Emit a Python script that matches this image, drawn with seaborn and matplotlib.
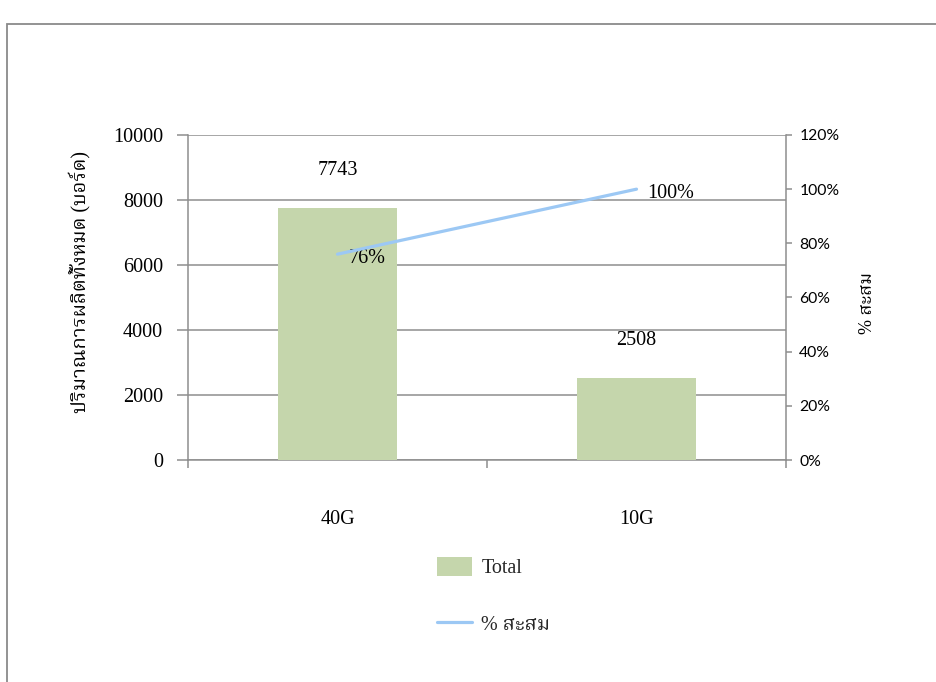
import numpy as np
import pandas as pd
import matplotlib
matplotlib.use("Agg")
import matplotlib.pyplot as plt
from matplotlib import font_manager
from matplotlib.patches import Rectangle, Patch
from matplotlib.lines import Line2D
from matplotlib.ticker import FixedLocator, PercentFormatter
import seaborn as sns

# Production totals per board type and the cumulative share
categories = ["40G", "10G"]
totals = [7743, 2508]
cum_share = [0.76, 1.00]
cum_labels = ["76%", "100%"]

left_title = "ปริมาณการผลิตทั้งหมด (บอร์ด)"
right_title = "% สะสม"
bar_name = "Total"
line_name = "% สะสม"

BAR_COLOR = "#C5D6AC"
LINE_COLOR = "#9CC8F4"
GRID_COLOR = "#8E8E8E"


def find_thai_family():
    """Return an installed family that has Thai glyphs, if any."""
    try:
        from fontTools.ttLib import TTFont
    except Exception:
        return None
    found = []
    for f in font_manager.fontManager.ttflist:
        try:
            tt = TTFont(f.fname, fontNumber=0, lazy=True)
            cmap = tt.getBestCmap()
            if cmap and 0x0E2A in cmap and 0x0E21 in cmap:
                found.append(f.name)
        except Exception:
            continue
    prefs = ["Noto Serif Thai", "Norasi", "Tlwg Typo", "Loma", "Garuda",
             "Noto Sans Thai Looped", "Noto Sans Thai", "Kinnari", "Laksaman"]
    for p in prefs:
        if p in found:
            return p
    return found[0] if found else None


sns.set_theme(style="white")
thai = find_thai_family()
serif_fam = ["Liberation Serif"] + ([thai] if thai else []) + ["DejaVu Sans"]
plt.rcParams["font.family"] = serif_fam
plt.rcParams["axes.unicode_minus"] = False

W, H = 936, 682
fig = plt.figure(figsize=(W / 100, H / 100), dpi=100)
fig.patch.set_facecolor("white")

# outer chart frame (runs off the right and bottom edges)
fig.patches.append(Rectangle((7 / W, -0.05), 1.2, 1 - 24 / H + 0.05,
                             transform=fig.transFigure, fill=False,
                             edgecolor="#8A8A8A", linewidth=1.3))

ax = fig.add_axes([188 / W, 1 - 460 / H, 598 / W, 325 / H])
df = pd.DataFrame({"category": categories, "total": totals})
sns.barplot(data=df, x="category", y="total", color=BAR_COLOR, width=0.4,
            saturation=1, linewidth=0, ax=ax, zorder=3)
ax.set_xlim(-0.5, len(categories) - 0.5)
ax.set_ylim(0, 10000)
ax.yaxis.set_major_locator(FixedLocator(np.arange(0, 10001, 2000)))
ax.grid(axis="y", color=GRID_COLOR, linewidth=1.1, zorder=0)
ax.set_axisbelow(True)
ax.set_xlabel("")
ax.set_ylabel("")
for s in ["top", "right"]:
    ax.spines[s].set_visible(False)
for s in ["left", "bottom"]:
    ax.spines[s].set_color(GRID_COLOR)
    ax.spines[s].set_linewidth(1.1)

ax.tick_params(axis="y", which="major", direction="out", length=8, width=1.1,
               color=GRID_COLOR, pad=10, labelsize=14.5, left=True)
ax.set_xticks(range(len(categories)))
ax.set_xticklabels(categories)
ax.set_xticks(np.arange(-0.5, len(categories)), minor=True)
ax.tick_params(axis="x", which="major", length=0, pad=36, labelsize=14.5)
ax.tick_params(axis="x", which="minor", direction="out", length=6, width=1.1,
               color=GRID_COLOR, bottom=True)
for lbl in ax.get_yticklabels() + ax.get_xticklabels():
    lbl.set_color("black")

# value labels above the bars
for i, v in enumerate(totals):
    ax.annotate(f"{v}", xy=(i, v), xytext=(0, 27), textcoords="offset points",
                ha="center", va="center", fontsize=14.5, color="black")

# cumulative share on the secondary axis
ax2 = ax.twinx()
sns.lineplot(x=np.arange(len(categories)), y=cum_share, ax=ax2,
             color=LINE_COLOR, linewidth=2.3, zorder=4)
ax2.set_ylim(0, 1.2)
ax2.yaxis.set_major_locator(FixedLocator(np.arange(0, 1.21, 0.2)))
ax2.yaxis.set_major_formatter(PercentFormatter(1.0, decimals=0))
ax2.grid(False)
for s in ["top", "left", "bottom"]:
    ax2.spines[s].set_visible(False)
ax2.spines["right"].set_color(GRID_COLOR)
ax2.spines["right"].set_linewidth(1.1)
ax2.tick_params(axis="y", direction="out", length=4.5, width=1.1,
                color=GRID_COLOR, pad=5, labelsize=11.3, right=True)
for lbl in ax2.get_yticklabels():
    lbl.set_family(["Lato", "DejaVu Sans"])
    lbl.set_color("black")
ax2.set_ylabel("")

for i, (v, t) in enumerate(zip(cum_share, cum_labels)):
    ax2.annotate(t, xy=(i, v), xytext=(8, -3), textcoords="offset points",
                 ha="left", va="center", fontsize=14.5, color="black")

# axis titles
fig.text(80 / W, 1 - 282 / H, left_title, rotation=90, ha="center",
         va="center", fontsize=14.5, color="black")
fig.text(868 / W, 1 - 303 / H, right_title, rotation=90, ha="center",
         va="center", fontsize=13, color="black")

# legend below the plot
handles = [Patch(facecolor=BAR_COLOR, edgecolor="none"),
           Line2D([0], [0], color=LINE_COLOR, linewidth=2.3)]
fig.legend(handles, [bar_name, line_name], loc="upper left",
           bbox_to_anchor=(437 / W, 1 - 557 / H), frameon=False,
           fontsize=14.5, borderpad=0, borderaxespad=0, handlelength=1.75,
           handleheight=1.05, handletextpad=0.45, labelspacing=1.75)

fig.savefig("out.png", dpi=100, facecolor="white")
